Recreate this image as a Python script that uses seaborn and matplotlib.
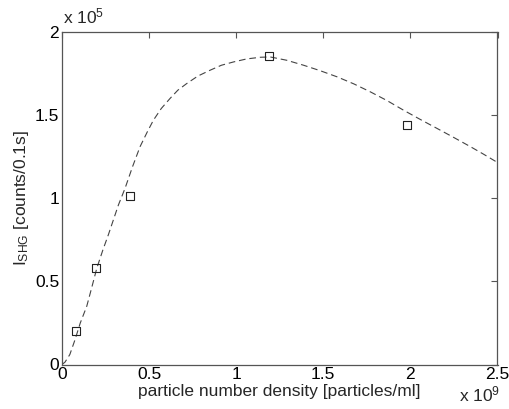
import numpy as np
import pandas as pd
import matplotlib
matplotlib.use("Agg")
import matplotlib.pyplot as plt
import seaborn as sns

# measured points (x in 1e9 particles/ml, y in 1e5 counts/0.1s)
meas_x = [0.080, 0.197, 0.392, 1.190, 1.980]
meas_y = [0.204, 0.580, 1.013, 1.857, 1.440]

# fitted curve
fit_x = [0.0, 0.017, 0.045, 0.075, 0.105, 0.142, 0.170, 0.200, 0.235, 0.266, 0.295,
         0.324, 0.362, 0.405, 0.448, 0.490, 0.525, 0.570, 0.620, 0.665, 0.716,
         0.780, 0.850, 0.915, 0.985, 1.060, 1.138, 1.195, 1.290, 1.387, 1.480,
         1.580, 1.675, 1.770, 1.865, 1.960, 2.055, 2.153, 2.250, 2.345, 2.420, 2.500]
fit_y = [0.0, 0.014, 0.060, 0.150, 0.250, 0.350, 0.460, 0.580, 0.690, 0.780, 0.870,
         0.960, 1.060, 1.190, 1.310, 1.400, 1.470, 1.540, 1.600, 1.650, 1.690,
         1.735, 1.770, 1.800, 1.820, 1.838, 1.848, 1.850, 1.830, 1.800, 1.768,
         1.730, 1.688, 1.640, 1.588, 1.530, 1.475, 1.420, 1.365, 1.310, 1.265, 1.215]

xticks = [0, 0.5, 1, 1.5, 2, 2.5]
xtick_labels = ["0", "0.5", "1", "1.5", "2", "2.5"]
yticks = [0, 0.5, 1, 1.5, 2]
ytick_labels = ["0", "0.5", "1", "1.5", "2"]

sns.set_style("white")
plt.rcParams["font.family"] = ["Liberation Sans", "DejaVu Sans"]
plt.rcParams["mathtext.fontset"] = "custom"
plt.rcParams["mathtext.rm"] = "Liberation Sans"
plt.rcParams["mathtext.it"] = "Liberation Sans"

FS = 12.5

fig = plt.figure(figsize=(5.09, 4.09), dpi=100)
ax = fig.add_axes([62 / 509, 1 - 364.5 / 409, (497.5 - 62) / 509, (364.5 - 32) / 409])

fit_df = pd.DataFrame({"x": fit_x, "y": fit_y})
meas_df = pd.DataFrame({"x": meas_x, "y": meas_y})

sns.lineplot(data=fit_df, x="x", y="y", ax=ax, color="#444444", linewidth=0.8,
             linestyle=(0, (6, 3.5)), sort=False)
sns.scatterplot(data=meas_df, x="x", y="y", ax=ax, marker="s", s=32,
                facecolor="none", edgecolor="#222222", linewidth=0.8, zorder=5)

ax.set_xlim(0, 2.5)
ax.set_ylim(0, 2)
ax.set_xticks(xticks)
ax.set_xticklabels(xtick_labels)
ax.set_yticks(yticks)
ax.set_yticklabels(ytick_labels)
ax.tick_params(direction="in", length=4.5, width=0.8, color="#555555",
               top=True, right=True, labelsize=FS, labelcolor="black", pad=2)
for sp in ax.spines.values():
    sp.set_visible(True)
    sp.set_color("#555555")
    sp.set_linewidth(0.9)

ax.set_xlabel("particle number density [particles/ml]", fontsize=FS, labelpad=1)
ax.set_ylabel(r"I$_{\mathrm{SHG}}$ [counts/0.1s]", fontsize=FS)
ax.yaxis.set_label_coords(31 / 509, 1 - 198 / 409, transform=fig.transFigure)

fig.text(63 / 509, 1 - 23.5 / 409, r"x 10$^{5}$", fontsize=FS, ha="left", va="baseline")
fig.text(459 / 509, 1 - 401 / 409, r"x 10$^{9}$", fontsize=FS, ha="left", va="baseline")

fig.savefig("out.png", dpi=100)
